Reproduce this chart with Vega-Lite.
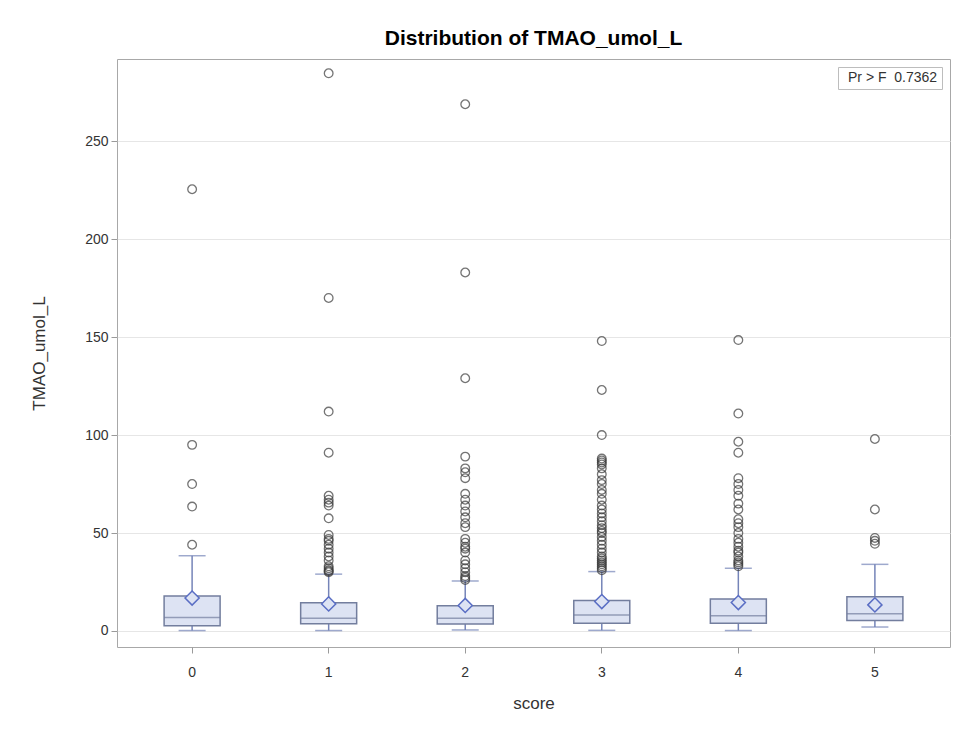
{
  "$schema": "https://vega.github.io/schema/vega-lite/v6.json",
  "width": 833,
  "height": 588,
  "autosize": {"type": "none"},
  "padding": {"left": 117, "top": 59, "right": 10, "bottom": 82},
  "background": "white",
  "title": {"text": "Distribution of TMAO_umol_L", "fontSize": 21, "font": "Liberation Sans", "fontWeight": "bold", "color": "#000000", "offset": 10, "anchor": "middle"},
  "config": {
    "view": {"stroke": "#a8a8a8", "strokeWidth": 1},
    "axis": {"font": "Liberation Sans", "labelFont": "Liberation Sans", "titleFont": "Liberation Sans", "labelColor": "#333333", "titleColor": "#333333", "tickColor": "#9a9a9a", "tickSize": 6, "domain": false, "titleFontWeight": "normal"},
    "legend": {"orient": "top-right", "offset": 8, "strokeColor": "#bdbdbd", "padding": 4, "labelFont": "Liberation Sans", "labelFontSize": 14, "labelColor": "#333333", "symbolSize": 0, "symbolOpacity": 0, "symbolStrokeWidth": 0, "labelOffset": -8, "fillColor": "white"}
  },
  "datasets": {
    "boxes": [
      {"score": "0", "lower": 0.2, "q1": 2.7, "median": 6.8, "q3": 17.9, "upper": 38.4, "mean": 16.8},
      {"score": "1", "lower": 0.2, "q1": 3.7, "median": 6.5, "q3": 14.4, "upper": 29.0, "mean": 13.8},
      {"score": "2", "lower": 0.5, "q1": 3.6, "median": 6.5, "q3": 12.8, "upper": 25.5, "mean": 13.0},
      {"score": "3", "lower": 0.3, "q1": 3.9, "median": 8.2, "q3": 15.5, "upper": 30.3, "mean": 15.0},
      {"score": "4", "lower": 0.2, "q1": 3.9, "median": 7.8, "q3": 16.3, "upper": 32.0, "mean": 14.5},
      {"score": "5", "lower": 2.0, "q1": 5.3, "median": 8.8, "q3": 17.5, "upper": 34.0, "mean": 13.3}
    ],
    "outliers": [
      {"score": "0", "value": 225.5}, {"score": "0", "value": 95}, {"score": "0", "value": 75}, {"score": "0", "value": 63.5}, {"score": "0", "value": 44},
      {"score": "1", "value": 284.7}, {"score": "1", "value": 170}, {"score": "1", "value": 112}, {"score": "1", "value": 91}, {"score": "1", "value": 69}, {"score": "1", "value": 67}, {"score": "1", "value": 65.5}, {"score": "1", "value": 64}, {"score": "1", "value": 57.5}, {"score": "1", "value": 49}, {"score": "1", "value": 47}, {"score": "1", "value": 46}, {"score": "1", "value": 44}, {"score": "1", "value": 42}, {"score": "1", "value": 40}, {"score": "1", "value": 38}, {"score": "1", "value": 36}, {"score": "1", "value": 33}, {"score": "1", "value": 32}, {"score": "1", "value": 31}, {"score": "1", "value": 30.5}, {"score": "1", "value": 30},
      {"score": "2", "value": 268.9}, {"score": "2", "value": 183}, {"score": "2", "value": 129}, {"score": "2", "value": 89}, {"score": "2", "value": 83}, {"score": "2", "value": 81}, {"score": "2", "value": 78}, {"score": "2", "value": 70}, {"score": "2", "value": 67}, {"score": "2", "value": 64}, {"score": "2", "value": 61}, {"score": "2", "value": 58}, {"score": "2", "value": 55}, {"score": "2", "value": 53}, {"score": "2", "value": 47}, {"score": "2", "value": 45}, {"score": "2", "value": 43}, {"score": "2", "value": 42}, {"score": "2", "value": 40}, {"score": "2", "value": 36}, {"score": "2", "value": 34}, {"score": "2", "value": 32}, {"score": "2", "value": 30}, {"score": "2", "value": 28}, {"score": "2", "value": 27}, {"score": "2", "value": 26},
      {"score": "3", "value": 148}, {"score": "3", "value": 123}, {"score": "3", "value": 100}, {"score": "3", "value": 88}, {"score": "3", "value": 87}, {"score": "3", "value": 86}, {"score": "3", "value": 85}, {"score": "3", "value": 83}, {"score": "3", "value": 80}, {"score": "3", "value": 77}, {"score": "3", "value": 75}, {"score": "3", "value": 72}, {"score": "3", "value": 70}, {"score": "3", "value": 67}, {"score": "3", "value": 64}, {"score": "3", "value": 62}, {"score": "3", "value": 60}, {"score": "3", "value": 58}, {"score": "3", "value": 56}, {"score": "3", "value": 54}, {"score": "3", "value": 52.5}, {"score": "3", "value": 51}, {"score": "3", "value": 50}, {"score": "3", "value": 48}, {"score": "3", "value": 46}, {"score": "3", "value": 44}, {"score": "3", "value": 42}, {"score": "3", "value": 40}, {"score": "3", "value": 38}, {"score": "3", "value": 37}, {"score": "3", "value": 36}, {"score": "3", "value": 35}, {"score": "3", "value": 34}, {"score": "3", "value": 33}, {"score": "3", "value": 32}, {"score": "3", "value": 31},
      {"score": "4", "value": 148.5}, {"score": "4", "value": 111}, {"score": "4", "value": 96.6}, {"score": "4", "value": 91}, {"score": "4", "value": 78}, {"score": "4", "value": 75}, {"score": "4", "value": 72}, {"score": "4", "value": 69}, {"score": "4", "value": 65}, {"score": "4", "value": 62}, {"score": "4", "value": 57}, {"score": "4", "value": 55}, {"score": "4", "value": 53}, {"score": "4", "value": 50}, {"score": "4", "value": 47}, {"score": "4", "value": 45}, {"score": "4", "value": 43}, {"score": "4", "value": 41}, {"score": "4", "value": 40}, {"score": "4", "value": 38}, {"score": "4", "value": 36}, {"score": "4", "value": 35}, {"score": "4", "value": 34}, {"score": "4", "value": 33},
      {"score": "5", "value": 98}, {"score": "5", "value": 62}, {"score": "5", "value": 47.5}, {"score": "5", "value": 46}, {"score": "5", "value": 44.5}
    ]
  },
  "encoding": {
    "x": {"field": "score", "type": "ordinal", "scale": {"paddingInner": 0, "paddingOuter": 0.05},
      "axis": {"title": "score", "labelAngle": 0, "labelFontSize": 14, "labelPadding": 12, "titleFontSize": 17, "titlePadding": 16, "grid": false}}
  },
  "layer": [
    {
      "data": {"name": "boxes"},
      "mark": {"type": "rule", "color": "#7584b8", "strokeWidth": 1.5},
      "encoding": {
        "y": {"field": "lower", "type": "quantitative", "scale": {"domain": [-8.2, 292], "nice": false, "zero": false},
          "axis": {"title": "TMAO_umol_L", "values": [0, 50, 100, 150, 200, 250], "labelFontSize": 14, "labelPadding": 3, "titleFontSize": 17, "titlePadding": 36, "grid": true, "gridColor": "#e6e6e6"}},
        "y2": {"field": "q1"}
      }
    },
    {
      "data": {"name": "boxes"},
      "mark": {"type": "rule", "color": "#7584b8", "strokeWidth": 1.5},
      "encoding": {
        "y": {"field": "q3", "type": "quantitative", "scale": {"domain": [-8.2, 292], "nice": false, "zero": false}},
        "y2": {"field": "upper"}
      }
    },
    {
      "data": {"name": "boxes"},
      "mark": {"type": "tick", "color": "#7584b8", "size": 27, "thickness": 1.5},
      "encoding": {
        "y": {"field": "lower", "type": "quantitative", "scale": {"domain": [-8.2, 292], "nice": false, "zero": false}}
      }
    },
    {
      "data": {"name": "boxes"},
      "mark": {"type": "tick", "color": "#7584b8", "size": 27, "thickness": 1.5},
      "encoding": {
        "y": {"field": "upper", "type": "quantitative", "scale": {"domain": [-8.2, 292], "nice": false, "zero": false}}
      }
    },
    {
      "data": {"name": "boxes"},
      "mark": {"type": "bar", "size": 56, "fill": "#dde3f3", "stroke": "#737e9e", "strokeWidth": 1.5},
      "encoding": {
        "y": {"field": "q1", "type": "quantitative", "scale": {"domain": [-8.2, 292], "nice": false, "zero": false}},
        "y2": {"field": "q3"}
      }
    },
    {
      "data": {"name": "boxes"},
      "mark": {"type": "tick", "color": "#737e9e", "size": 56, "thickness": 1.5},
      "encoding": {
        "y": {"field": "median", "type": "quantitative", "scale": {"domain": [-8.2, 292], "nice": false, "zero": false}}
      }
    },
    {
      "data": {"name": "boxes"},
      "mark": {"type": "point", "shape": "diamond", "size": 200, "filled": false, "fill": "#dde3f3", "fillOpacity": 1, "stroke": "#5a6ec4", "strokeWidth": 1.5, "opacity": 1},
      "encoding": {
        "y": {"field": "mean", "type": "quantitative", "scale": {"domain": [-8.2, 292], "nice": false, "zero": false}}
      }
    },
    {
      "data": {"name": "outliers"},
      "mark": {"type": "point", "shape": "circle", "size": 75, "filled": false, "stroke": "#3a3a3a", "strokeWidth": 1.3, "opacity": 0.7},
      "encoding": {
        "y": {"field": "value", "type": "quantitative", "scale": {"domain": [-8.2, 292], "nice": false, "zero": false}}
      }
    },
    {
      "data": {"name": "boxes"},
      "mark": {"type": "point", "opacity": 0},
      "encoding": {
        "y": {"field": "median", "type": "quantitative", "scale": {"domain": [-8.2, 292], "nice": false, "zero": false}},
        "color": {"datum": "Pr > F\u00a0\u00a00.7362", "type": "nominal", "scale": {"range": ["#333333"]}, "legend": {"title": null}}
      }
    }
  ]
}
